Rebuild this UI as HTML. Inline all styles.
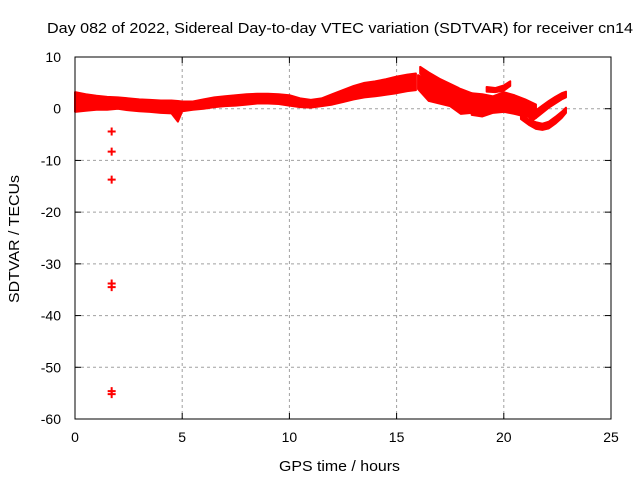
<!DOCTYPE html>
<html><head><meta charset="utf-8"><style>
body{margin:0;background:#fff}
svg{display:block;font-family:"Liberation Sans",sans-serif}
</style></head><body>
<svg id="c" width="640" height="480"></svg>
<script>
const xTicks=[0,5,10,15,20,25];
const yTicks=[10,0,-10,-20,-30,-40,-50,-60];
// band tracks: hours, upper value, lower value
const mainT=[0,0.5,1,1.5,2,2.5,3,3.5,4,4.5,4.8,5,5.5,6,6.5,7,7.5,8,8.5,9,9.5,10,10.5,11,11.5,12,12.5,13,13.5,14,14.5,15,15.5,15.9];
const mainU=[3.2,2.8,2.5,2.3,2.2,2,1.8,1.7,1.6,1.6,1.5,1.4,1.4,1.8,2.2,2.4,2.6,2.8,2.9,2.9,2.8,2.6,2,1.7,2,2.8,3.6,4.4,5,5.3,5.7,6.2,6.6,6.8];
const mainL=[-0.6,-0.4,-0.2,-0.2,0,-0.3,-0.5,-0.6,-0.8,-0.9,-2.5,-0.5,-0.2,0,0.3,0.5,0.6,0.8,1,1,0.9,0.6,0.3,0.2,0.5,0.8,1.3,1.8,2.2,2.4,2.7,3.0,3.4,3.6];
const aT=[16.1,16.5,17,17.5,17.9];
const aU=[8.1,7.0,5.8,4.8,4.0];
const aL=[6.8,5.2,3.8,2.8,2.3];
const bT=[16,16.5,17,17.5,18,18.5,19];
const bU=[6.5,5.5,5.0,4.5,3.8,3.0,2.2];
const bL=[3.8,1.5,1.0,0.5,-1.0,-0.8,-1.2];
const cT=[19.2,19.6,20,20.3];
const cU=[4.2,4.0,4.5,5.3];
const cL=[3.3,3.2,3.5,4.4];
const dT=[18.5,19,19.5,20,20.5,21,21.5];
const dU=[3.0,2.8,2.4,3.2,2.6,1.8,0.8];
const dL=[-1.2,-1.5,-0.8,-0.6,-1.0,-1.5,-1.8];
const eT=[21.2,21.5,21.8,22.1,22.4,22.7,22.9];
const eU=[-1.0,-0.3,0.6,1.5,2.3,3.0,3.3];
const eL=[-2.6,-1.8,-0.8,0.2,1.0,1.8,2.2];
const fT=[20.8,21.2,21.5,21.8,22.1,22.4,22.7,22.9];
const fU=[-1.2,-2.2,-2.6,-2.9,-2.5,-1.6,-0.6,0.2];
const fL=[-2.0,-3.2,-3.9,-4.1,-3.8,-2.9,-1.8,-0.8];
const outT=[1.71,1.71,1.71,1.71,1.71,1.71,1.71];
const outV=[-4.4,-8.3,-13.7,-33.8,-34.5,-54.6,-55.2];

const X0=75,X1=611,Y0=419,Y1=57;
const xs=h=>X0+(h-0)/(25-0)*(X1-X0);
const ys=v=>Y0-(v+60)/70*(Y0-Y1);
const svg=document.getElementById('c');
const NS='http://www.w3.org/2000/svg';
function mk(tag,attrs,parent){const e=document.createElementNS(NS,tag);for(const k in attrs)e.setAttribute(k,attrs[k]);(parent||svg).appendChild(e);return e;}
xTicks.forEach(t=>{
 if(t>0&&t<25){const g=mk('line',{x1:xs(t),x2:xs(t),y1:Y1,y2:Y0,stroke:'#a0a0a0','stroke-dasharray':'3,3'});
 
 }
 const tk=mk('line',{x1:xs(t),x2:xs(t),y1:Y0,y2:Y0-6,stroke:'#000'});
 
 
 mk('line',{x1:xs(t),x2:xs(t),y1:Y1,y2:Y1+6,stroke:'#000'});
 const l=mk('text',{x:xs(t),y:442,'text-anchor':'middle','font-size':14});l.textContent=t;
 
 
});
yTicks.forEach(t=>{
 if(t<10&&t>-60){const g=mk('line',{x1:X0,x2:X1,y1:ys(t),y2:ys(t),stroke:'#a0a0a0','stroke-dasharray':'3,3'});
 
 }
 mk('line',{x1:X0,x2:X0+6,y1:ys(t),y2:ys(t),stroke:'#000'});
 mk('line',{x1:X1,x2:X1-6,y1:ys(t),y2:ys(t),stroke:'#000'});
 const l=mk('text',{x:61,y:ys(t)+5,'text-anchor':'end','font-size':14});l.textContent=t;
 
 
});
function band(T,U,L,name){
 let p=T.map((t,i)=>xs(t)+','+ys(U[i]));
 for(let i=T.length-1;i>=0;i--)p.push(xs(T[i])+','+ys(L[i]));
 const e=mk('polygon',{points:p.join(' '),fill:'#ff0000',stroke:'#ff0000','stroke-width':2,'stroke-linejoin':'round'});
 
 
}
band(mainT,mainU,mainL,'series-main-band');
band(aT,aU,aL,'series-track-a');
band(bT,bU,bL,'series-track-b');
band(cT,cU,cL,'series-track-c');
band(dT,dU,dL,'series-track-d');
band(eT,eU,eL,'series-track-e');
band(fT,fU,fL,'series-track-f');
outT.forEach((t,i)=>{
 const x=xs(t),y=ys(outV[i]);
 const p=mk('path',{d:`M${x-4},${y}H${x+4}M${x},${y-4}V${y+4}`,stroke:'#ff0000','stroke-width':2});
 
 
});
const fr=mk('rect',{x:X0,y:Y1,width:X1-X0,height:Y0-Y1,fill:'none',stroke:'#000'});


const ti=mk('text',{x:47,y:33,'font-size':15,textLength:586,lengthAdjust:'spacingAndGlyphs'});ti.textContent='Day 082 of 2022, Sidereal Day-to-day VTEC variation (SDTVAR) for receiver cn14';


const xt=mk('text',{x:279,y:471,'font-size':15,textLength:121,lengthAdjust:'spacingAndGlyphs'});xt.textContent='GPS time / hours';


const yt=mk('text',{x:0,y:0,'font-size':15,textLength:128,lengthAdjust:'spacingAndGlyphs',transform:'translate(19,303) rotate(-90)'});yt.textContent='SDTVAR / TECUs';


</script>
</body></html>
